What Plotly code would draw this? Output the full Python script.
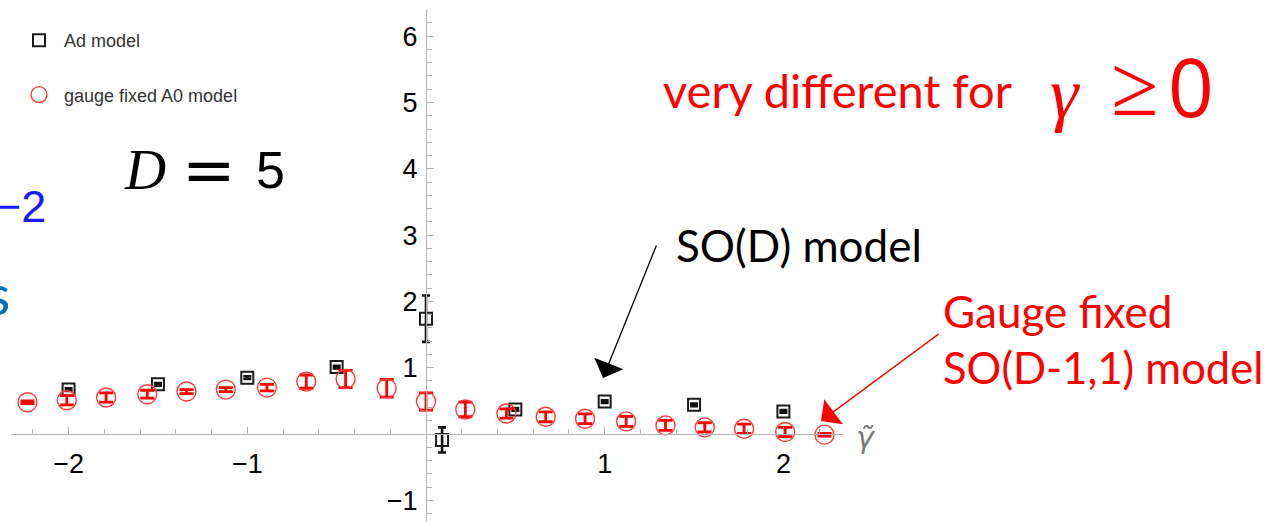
import plotly.graph_objects as go

W, H = 1281, 522

# ---- data -----------------------------------------------------------------
# Ad model (black open squares)
ad_x = [-2.0, -1.5, -1.0, -0.5, 0.0, 0.09, 0.5, 1.0, 1.5, 2.0]
ad_y = [0.67, 0.75, 0.85, 1.01, 1.74, -0.09, 0.37, 0.49, 0.44, 0.34]
ad_err = [0.02, 0.02, 0.02, 0.02, 0.35, 0.19, 0.02, 0.02, 0.02, 0.02]

# gauge fixed A0 model (red open circles)
gf_x = [-2.23, -2.01, -1.79, -1.56, -1.34, -1.12, -0.89, -0.67, -0.45, -0.22,
        0.0, 0.22, 0.45, 0.67, 0.89, 1.12, 1.34, 1.56, 1.78, 2.01, 2.23]
gf_y = [0.48, 0.51, 0.55, 0.60, 0.64, 0.67, 0.70, 0.79, 0.83, 0.69,
        0.49, 0.37, 0.31, 0.26, 0.23, 0.19, 0.13, 0.10, 0.08, 0.03, -0.01]
gf_err = [0.02, 0.07, 0.07, 0.06, 0.03, 0.03, 0.05, 0.10, 0.13, 0.135,
          0.13, 0.11, 0.07, 0.075, 0.075, 0.075, 0.075, 0.07, 0.07, 0.07, 0.02]

x_tickvals = [-2, -1, 1, 2]
y_tickvals = [-1, 1, 2, 3, 4, 5, 6]

AXIS_GREY = "#b4b4b4"
CALIBRI_LIKE = "Lato"


def P(xpx, ypx):
    """pixel position on the page -> paper fraction"""
    return xpx / W, 1 - ypx / H


fig = go.Figure()

fig.add_trace(go.Scatter(
    x=ad_x, y=ad_y, mode="markers", name="Ad model", legendgroup="ad",
    marker=dict(symbol="square-open", size=12, color="#1c1c1c",
                line=dict(width=2, color="#1c1c1c")),
    error_y=dict(type="data", array=ad_err, visible=True, color="#111111",
                 thickness=2.6, width=4),
    cliponaxis=False,
))

fig.add_trace(go.Scatter(
    x=gf_x, y=gf_y, mode="markers", name="gauge fixed A0 model", legendgroup="gf",
    marker=dict(symbol="circle-open", size=19, color="#ff3b3b",
                line=dict(width=1.4, color="#ff3b3b")),
    error_y=dict(type="data", array=gf_err, visible=True, color="#ff0000",
                 thickness=2.8, width=7),
    cliponaxis=False,
))

# ---- annotations ----------------------------------------------------------
ann = []


def text(xpx, ypx, s, size, color="black", family=CALIBRI_LIKE,
         xanchor="left", yanchor="middle"):
    x, y = P(xpx, ypx)
    ann.append(dict(x=x, y=y, xref="paper", yref="paper", text=s, showarrow=False,
                    xanchor=xanchor, yanchor=yanchor,
                    font=dict(size=size, color=color, family=family)))


text(661, 90, "very different for", 47, color="#ff0000")
text(1065, 94, "<i>γ</i>", 72, color="#ff0000", family="Liberation Serif",
     xanchor="center")
text(1134, 86, "≥", 86, color="#ff0000", family="Liberation Serif", xanchor="center")
text(1191, 85, "0", 80, color="#ff0000", family="Open Sans", xanchor="center")

text(674, 245, "SO(D) model", 44)
text(941, 311, "Gauge fixed", 44, color="#ff0000")
text(941, 367, "SO(D-1,1) model", 43.5, color="#ff0000")

text(145, 170, "<i>D</i>", 57, family="Liberation Serif", xanchor="center")
text(209, 170, "=", 64, family="DejaVu Sans", xanchor="center")
text(270, 170, "5", 52, family="Liberation Sans", xanchor="center")

text(48, 206, "−2", 45, color="#1a1aff", family="Liberation Sans", xanchor="right")
text(12, 293, "s", 56, color="#0070c0", xanchor="right")

text(866, 437, "<i>γ̃</i>", 30, color="#7a7a7a", family="DejaVu Sans",
     xanchor="center")

# arrows
for tip, tail, col, wid in [((603, 378), (657, 244), "black", 1.3),
                            ((821, 421), (940, 333), "#ff0000", 1.3)]:
    x, y = P(*tip)
    ann.append(dict(x=x, y=y, xref="paper", yref="paper", text="", showarrow=True,
                    ax=tail[0] - tip[0], ay=tail[1] - tip[1],
                    arrowhead=1, arrowsize=4, arrowwidth=wid, arrowcolor=col))

# ---- layout ---------------------------------------------------------------
x0_px, x1_px = 11, 843
x_lo = (x0_px - 426) / 178.7
x_hi = (x1_px - 426) / 178.7
y_top_px = 10
y_lo = (434 - H) / 66.3
y_hi = (434 - y_top_px) / 66.3

fig.update_layout(
    width=W, height=H,
    margin=dict(l=0, r=0, t=0, b=0),
    paper_bgcolor="white", plot_bgcolor="white",
    showlegend=True,
    legend=dict(x=P(14, 0)[0], y=P(0, 22)[1], xanchor="left", yanchor="top",
                font=dict(size=18, color="#333333", family="Liberation Sans"),
                tracegroupgap=28, itemwidth=40, bgcolor="rgba(0,0,0,0)"),
    xaxis=dict(
        domain=[x0_px / W, x1_px / W], range=[x_lo, x_hi],
        anchor="free", position=(H - 434) / H,
        showgrid=False, zeroline=False, showline=True,
        linecolor=AXIS_GREY, linewidth=1.3,
        tickmode="array", tickvals=x_tickvals,
        ticks="inside", ticklen=7, tickwidth=1, tickcolor=AXIS_GREY,
        minor=dict(dtick=0.2, ticks="inside", ticklen=4.5, tickwidth=1,
                   tickcolor=AXIS_GREY, showgrid=False),
        tickfont=dict(size=27, color="black", family="Liberation Sans"),
        ticklabelstandoff=5,
    ),
    yaxis=dict(
        domain=[0, (H - y_top_px) / H], range=[y_lo, y_hi],
        anchor="free", position=426 / W,
        showgrid=False, zeroline=False, showline=True,
        linecolor=AXIS_GREY, linewidth=1.3,
        tickmode="array", tickvals=y_tickvals,
        ticks="inside", ticklen=7, tickwidth=1, tickcolor=AXIS_GREY,
        minor=dict(dtick=0.2, ticks="inside", ticklen=4.5, tickwidth=1,
                   tickcolor=AXIS_GREY, showgrid=False),
        tickfont=dict(size=27, color="black", family="Liberation Sans"),
        ticklabelstandoff=3,
    ),
    annotations=ann,
)

fig.write_html("out.html")
